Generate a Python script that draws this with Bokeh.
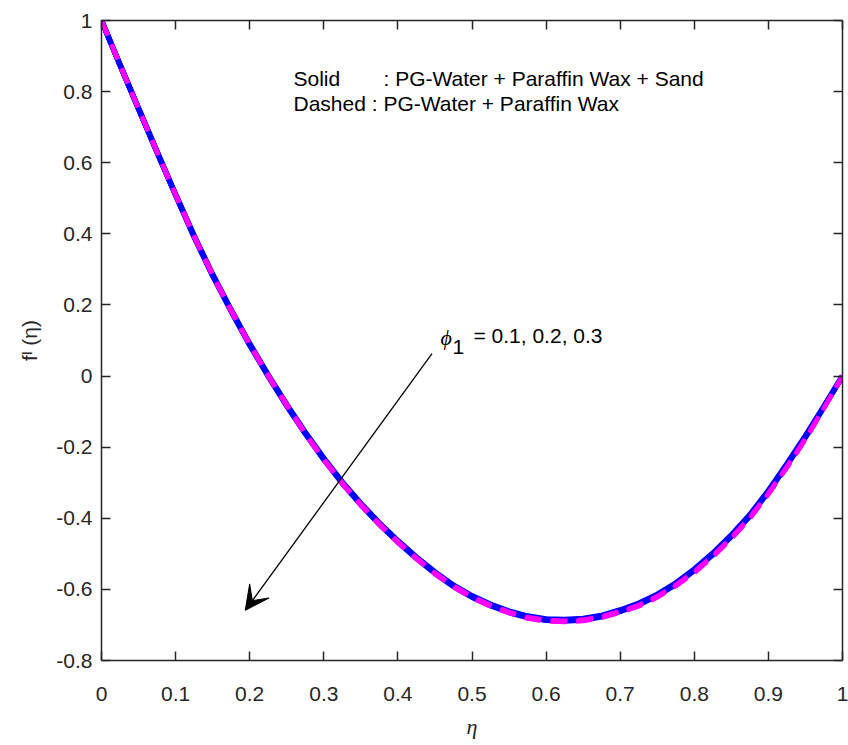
from bokeh.plotting import figure
from bokeh.models import Range1d, FixedTicker, Label, Arrow, VeeHead, LinearAxis
from bokeh.embed import file_html
from bokeh.resources import INLINE

# ---------------- data ----------------
eta = [0.000, 0.025, 0.050, 0.075, 0.100, 0.125, 0.150, 0.175, 0.200, 0.225,
       0.250, 0.275, 0.300, 0.325, 0.350, 0.375, 0.400, 0.425, 0.450, 0.475,
       0.500, 0.525, 0.550, 0.575, 0.600, 0.625, 0.650, 0.675, 0.700, 0.725,
       0.750, 0.775, 0.800, 0.825, 0.850, 0.875, 0.900, 0.925, 0.950, 0.975, 1.000]

# Solid : PG-Water + Paraffin Wax + Sand  (phi1 = 0.1, 0.2, 0.3)
solid_phi01 = [1.000, 0.876, 0.753, 0.631, 0.511, 0.395, 0.286, 0.186, 0.091, 0.003,
               -0.080, -0.158, -0.231, -0.298, -0.358, -0.413, -0.463, -0.509, -0.551, -0.588,
               -0.618, -0.642, -0.661, -0.675, -0.683, -0.685, -0.682, -0.673, -0.658, -0.639,
               -0.614, -0.582, -0.543, -0.498, -0.447, -0.390, -0.322, -0.247, -0.168, -0.085, 0.000]
solid_phi02 = [1.000, 0.875, 0.752, 0.630, 0.510, 0.393, 0.284, 0.184, 0.089, 0.001,
               -0.082, -0.160, -0.233, -0.300, -0.360, -0.415, -0.465, -0.511, -0.553, -0.590,
               -0.620, -0.644, -0.663, -0.677, -0.685, -0.687, -0.684, -0.675, -0.660, -0.641,
               -0.616, -0.584, -0.545, -0.500, -0.449, -0.392, -0.324, -0.249, -0.170, -0.086, 0.000]
solid_phi03 = [1.000, 0.874, 0.751, 0.629, 0.509, 0.391, 0.282, 0.182, 0.087, -0.001,
               -0.084, -0.162, -0.235, -0.302, -0.362, -0.417, -0.467, -0.513, -0.555, -0.592,
               -0.622, -0.646, -0.665, -0.679, -0.687, -0.689, -0.686, -0.677, -0.662, -0.643,
               -0.618, -0.586, -0.547, -0.502, -0.451, -0.394, -0.326, -0.251, -0.172, -0.087, 0.000]

# Dashed : PG-Water + Paraffin Wax  (phi1 = 0.1, 0.2, 0.3)
dash_phi01 = [1.000, 0.876, 0.753, 0.631, 0.511, 0.395, 0.286, 0.186, 0.091, 0.003,
              -0.080, -0.160, -0.233, -0.300, -0.360, -0.415, -0.465, -0.511, -0.553, -0.590,
              -0.620, -0.644, -0.663, -0.678, -0.686, -0.688, -0.685, -0.676, -0.661, -0.644,
              -0.619, -0.587, -0.550, -0.505, -0.454, -0.397, -0.329, -0.254, -0.175, -0.089, 0.000]
dash_phi02 = [1.000, 0.875, 0.752, 0.630, 0.510, 0.393, 0.284, 0.184, 0.089, 0.001,
              -0.082, -0.162, -0.235, -0.302, -0.362, -0.417, -0.467, -0.513, -0.555, -0.592,
              -0.622, -0.646, -0.665, -0.680, -0.688, -0.690, -0.687, -0.678, -0.663, -0.646,
              -0.621, -0.589, -0.552, -0.507, -0.456, -0.399, -0.331, -0.256, -0.177, -0.090, 0.000]
dash_phi03 = [1.000, 0.874, 0.751, 0.629, 0.509, 0.391, 0.282, 0.182, 0.087, -0.001,
              -0.084, -0.164, -0.237, -0.304, -0.364, -0.419, -0.469, -0.515, -0.557, -0.594,
              -0.624, -0.648, -0.667, -0.682, -0.690, -0.692, -0.689, -0.680, -0.665, -0.648,
              -0.623, -0.591, -0.554, -0.509, -0.458, -0.401, -0.333, -0.258, -0.179, -0.091, 0.000]

xticks = [0, 0.1, 0.2, 0.3, 0.4, 0.5, 0.6, 0.7, 0.8, 0.9, 1]
xtick_labels = ["0", "0.1", "0.2", "0.3", "0.4", "0.5", "0.6", "0.7", "0.8", "0.9", "1"]
yticks = [-0.8, -0.6, -0.4, -0.2, 0, 0.2, 0.4, 0.6, 0.8, 1]
ytick_labels = ["-0.8", "-0.6", "-0.4", "-0.2", "0", "0.2", "0.4", "0.6", "0.8", "1"]

# ---------------- figure ----------------
AXC = "#262626"
FONT = "Liberation Sans"
SERIF = "Liberation Serif"

p = figure(width=848, height=745, x_range=Range1d(0, 1), y_range=Range1d(-0.8, 1),
           output_backend="svg", toolbar_location=None,
           min_border_left=101, min_border_right=6, min_border_top=20, min_border_bottom=85)
p.grid.visible = False
p.outline_line_color = None
p.background_fill_color = "white"
p.border_fill_color = "white"


def style_axis(ax, ticks, labels=None, show_labels=True, standoff=10):
    ax.ticker = FixedTicker(ticks=ticks)
    ax.axis_line_color = AXC
    ax.axis_line_width = 1.5
    ax.major_tick_line_color = AXC
    ax.major_tick_line_width = 1.5
    ax.major_tick_in = 9
    ax.major_tick_out = 0
    ax.minor_tick_line_color = None
    if show_labels:
        ax.major_label_overrides = dict(zip(ticks, labels))
        ax.major_label_text_font = FONT
        ax.major_label_text_font_size = "21px"
        ax.major_label_text_color = AXC
        ax.major_label_standoff = standoff
    else:
        ax.major_label_text_color = None
        ax.major_label_text_font_size = "1px"
        ax.major_label_standoff = 0


xax = p.xaxis[0]
yax = p.yaxis[0]
style_axis(xax, xticks, xtick_labels, standoff=26)
style_axis(yax, yticks, ytick_labels, standoff=9)

xax.axis_label = "\u03b7"
xax.axis_label_text_font = SERIF
xax.axis_label_text_font_style = "italic"
xax.axis_label_text_font_size = "22px"
xax.axis_label_text_color = AXC
xax.axis_label_standoff = 10

yax.axis_label = "f\u1d35 (\u03b7)"
yax.axis_label_text_font = FONT
yax.axis_label_text_font_style = "normal"
yax.axis_label_text_font_size = "21px"
yax.axis_label_text_color = AXC
yax.axis_label_standoff = 12

top_ax = LinearAxis()
style_axis(top_ax, xticks, show_labels=False)
p.add_layout(top_ax, "above")
right_ax = LinearAxis()
style_axis(right_ax, yticks, show_labels=False)
p.add_layout(right_ax, "right")

# ---------------- curves ----------------
for ys in (solid_phi01, solid_phi02, solid_phi03):
    p.line(eta, ys, line_color="#0000FF", line_width=5.5)
for ys in (dash_phi01, dash_phi02, dash_phi03):
    p.line(eta, ys, line_color="#FF00FF", line_width=4.5, line_dash="16 10", line_cap="butt")

# ---------------- annotations ----------------
p.add_layout(Arrow(end=VeeHead(size=24, fill_color="black", line_color="black", line_width=1),
                   x_start=0.446, y_start=0.063, x_end=0.194, y_end=-0.659,
                   line_color="black", line_width=1.3))


def lab(x, y, text, font=FONT, size="21px", style="normal", align="left"):
    p.add_layout(Label(x=x, y=y, text=text, text_font=font, text_font_size=size,
                       text_font_style=style, text_align=align, text_baseline="alphabetic",
                       text_color="black"))


lab(0.2591, 0.8369, "Solid")
lab(0.3806, 0.8369, ": PG-Water + Paraffin Wax + Sand")
lab(0.2591, 0.7666, "Dashed : PG-Water + Paraffin Wax")

lab(0.4575, 0.1084, "\u03d5", font=SERIF, size="22px", style="italic")
lab(0.4737, 0.0831, "1")
lab(0.5020, 0.1141, "= 0.1, 0.2, 0.3")

open("out.html", "w").write(file_html(p, INLINE))
